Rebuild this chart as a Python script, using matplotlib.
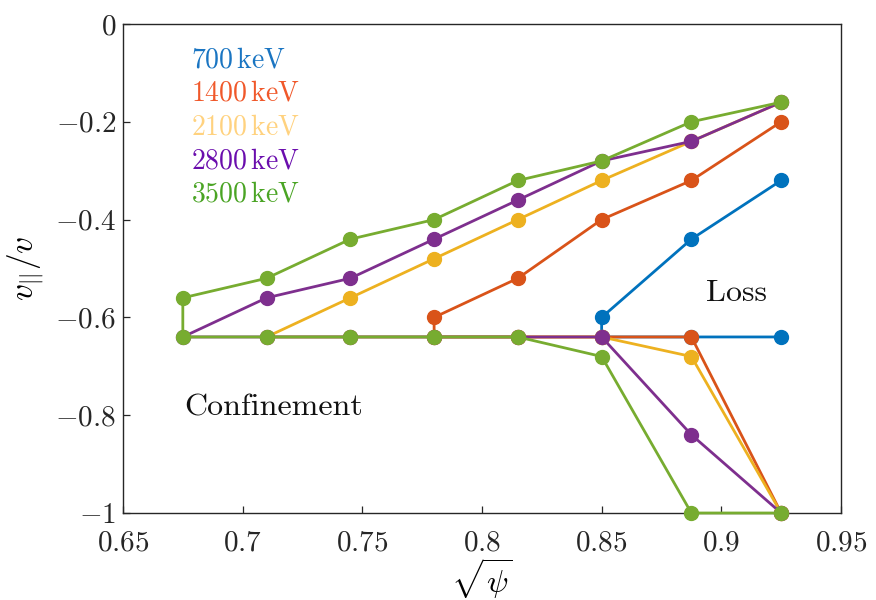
import matplotlib
matplotlib.use("Agg")
import matplotlib.pyplot as plt
from matplotlib.ticker import FuncFormatter

plt.rcParams['mathtext.fontset'] = 'cm'
plt.rcParams['font.family'] = 'serif'
plt.rcParams['font.serif'] = ['cmr10']
plt.rcParams['axes.unicode_minus'] = False

# sqrt(psi) grid
xs = [0.675, 0.71, 0.745, 0.78, 0.815, 0.85, 0.8875, 0.925]

# each boundary is drawn as one path: upper branch right->left, then lower branch left->right
x700 = [0.925, 0.8875, 0.85, 0.85, 0.8875, 0.925]
y700 = [-0.32, -0.44, -0.60, -0.64, -0.64, -0.64]

x1400 = [0.925, 0.8875, 0.85, 0.815, 0.78, 0.78, 0.815, 0.85, 0.8875, 0.925]
y1400 = [-0.20, -0.32, -0.40, -0.52, -0.60, -0.64, -0.64, -0.64, -0.64, -1.0]

x2100 = [0.925, 0.8875, 0.85, 0.815, 0.78, 0.745, 0.71, 0.745, 0.78, 0.815, 0.85, 0.8875, 0.925]
y2100 = [-0.16, -0.24, -0.32, -0.40, -0.48, -0.56, -0.64, -0.64, -0.64, -0.64, -0.64, -0.68, -1.0]

x2800 = [0.925, 0.8875, 0.85, 0.815, 0.78, 0.745, 0.71, 0.675, 0.71, 0.745, 0.78, 0.815, 0.85, 0.8875, 0.925]
y2800 = [-0.16, -0.24, -0.28, -0.36, -0.44, -0.52, -0.56, -0.64, -0.64, -0.64, -0.64, -0.64, -0.64, -0.84, -1.0]

x3500 = [0.925, 0.8875, 0.85, 0.815, 0.78, 0.745, 0.71, 0.675, 0.675, 0.71, 0.745, 0.78, 0.815, 0.85, 0.8875, 0.925]
y3500 = [-0.16, -0.20, -0.28, -0.32, -0.40, -0.44, -0.52, -0.56, -0.64, -0.64, -0.64, -0.64, -0.64, -0.68, -1.0, -1.0]

labels = ['700 keV', '1400 keV', '2100 keV', '2800 keV', '3500 keV']
line_colors = ['#0072BD', '#D95319', '#EDB120', '#7E2F8E', '#77AC30']
text_colors = ['#1a75c2', '#f0582a', '#ffd27f', '#6a0dad', '#4aa424']

fig = plt.figure(figsize=(8.76, 6), dpi=100)
ax = fig.add_axes([0.1404, 0.145, 0.8196, 0.815])

series = [(x700, y700), (x1400, y1400), (x2100, y2100), (x2800, y2800), (x3500, y3500)]
for (x, y), c in zip(series, line_colors):
    ax.plot(x, y, '-o', color=c, lw=2.0, ms=10, clip_on=False, zorder=3)

ax.set_xlim(0.65, 0.95)
ax.set_ylim(-1, 0)
ax.set_xticks([0.65, 0.7, 0.75, 0.8, 0.85, 0.9, 0.95])
ax.set_yticks([-1, -0.8, -0.6, -0.4, -0.2, 0])
fmt = FuncFormatter(lambda v, p: r'$%g$' % round(v, 3))
ax.xaxis.set_major_formatter(fmt)
ax.yaxis.set_major_formatter(fmt)
ax.tick_params(direction='in', length=5, width=0.9, labelsize=21, colors='#262626', pad=5)
ax.tick_params(axis='x', pad=12)
for s in ax.spines.values():
    s.set_linewidth(1.0)
    s.set_color('#262626')

ax.set_xlabel(r'$\sqrt{\psi}$', fontsize=23, va='center')
ax.xaxis.set_label_coords(0.5, -0.135)
ax.set_ylabel(r'$v_{||}/v$', fontsize=24, labelpad=6)

ly = [-0.075, -0.142, -0.212, -0.281, -0.349]
for t, c, yy in zip(labels, text_colors, ly):
    ax.text(0.6783, yy, t.replace(' ', r'$\,$'), color=c, fontsize=20, va='center', ha='left')

ax.text(0.6755, -0.785, 'Confinement', fontsize=23, va='center', ha='left', color='#111111')
ax.text(0.8938, -0.551, 'Loss', fontsize=23, va='center', ha='left', color='#111111')

fig.savefig('out.png', dpi=100)
